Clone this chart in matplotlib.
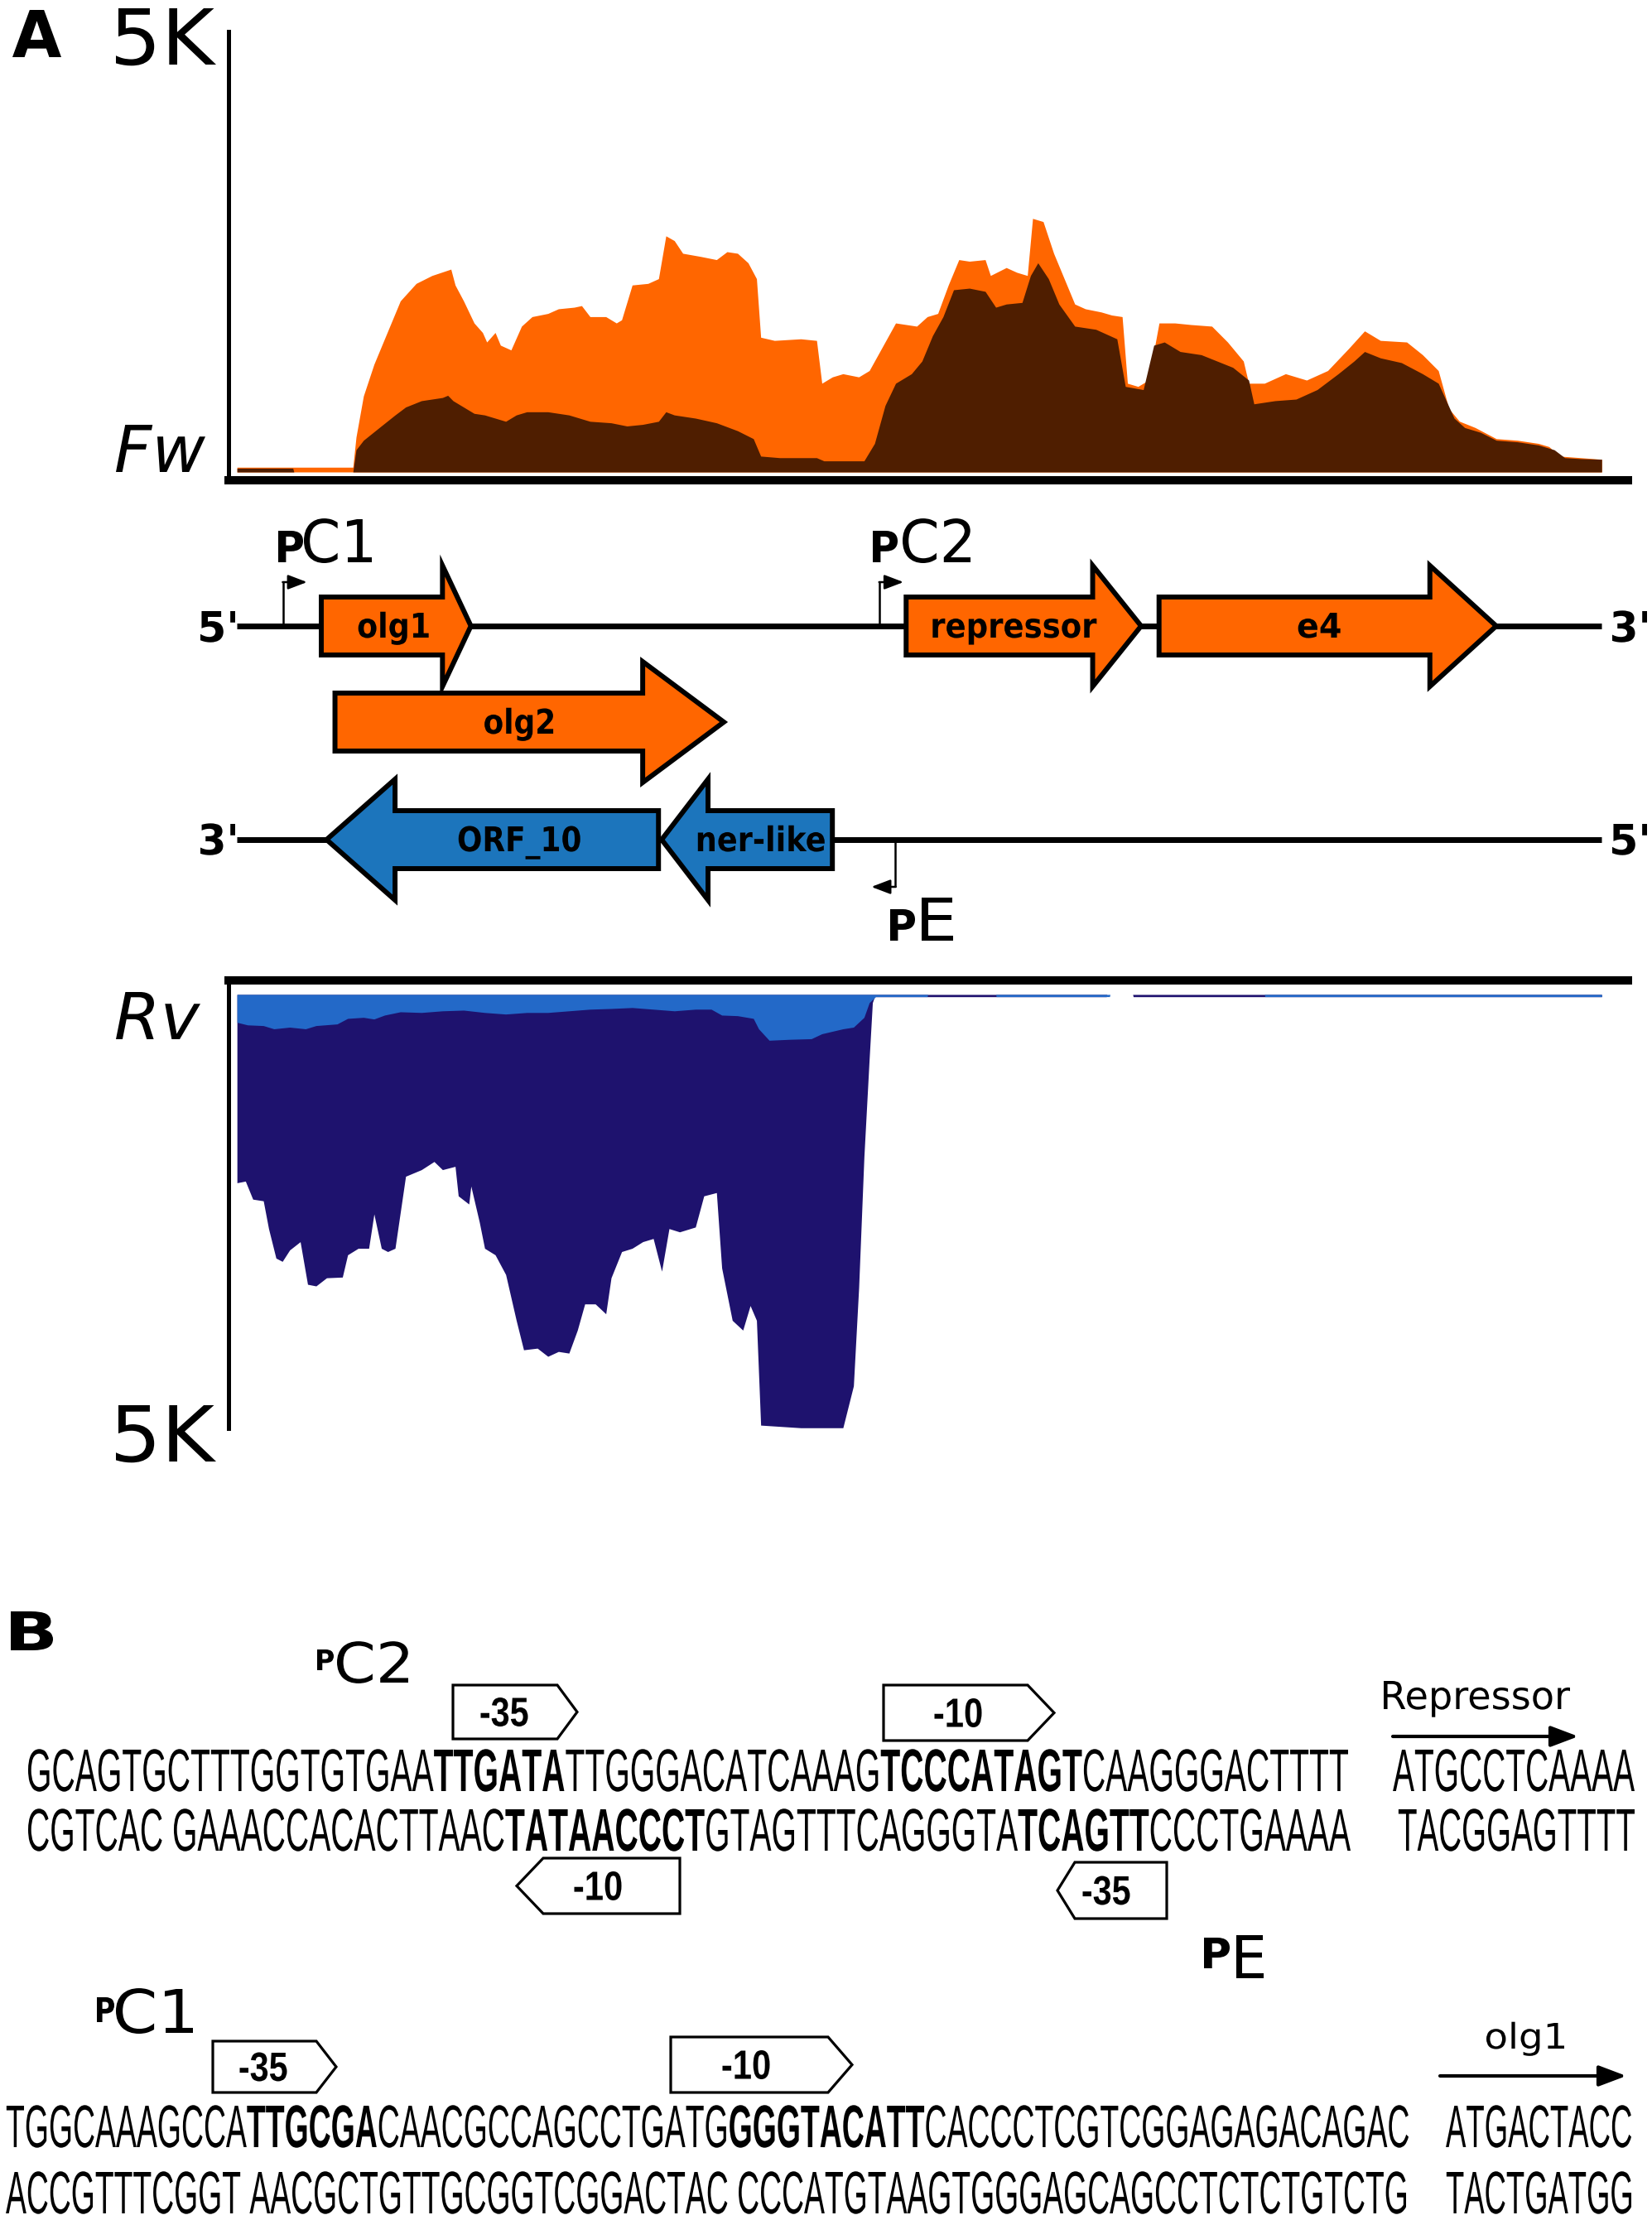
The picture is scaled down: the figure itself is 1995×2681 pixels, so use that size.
import matplotlib
matplotlib.use("Agg")
import matplotlib.pyplot as plt
from matplotlib.patches import Polygon, PathPatch
from matplotlib.path import Path
from matplotlib.textpath import TextPath
from matplotlib.transforms import Affine2D
from matplotlib.font_manager import FontProperties, findfont, get_font

W, H = 1995, 2681

# ---- coverage, forward strand (position in bp, reads) ----
fw_light_pos = [0, 220, 226, 240, 260, 280, 310, 340, 370, 406,
                414, 430, 450, 466, 474, 490, 500, 520, 540, 560,
                590, 610, 640, 654, 670, 700, 720, 730, 750, 780,
                800, 814, 830, 846, 880, 910, 930, 950, 970, 986,
                994, 1020, 1070, 1100, 1110, 1130, 1150, 1180, 1200, 1220,
                1250, 1270, 1290, 1310, 1330, 1350, 1370, 1390, 1420, 1430,
                1460, 1480, 1500, 1510, 1530, 1550, 1570, 1590, 1610, 1640,
                1660, 1680, 1690, 1710, 1730, 1750, 1780, 1810, 1850, 1880,
                1910, 1920, 1950, 1990, 2030, 2070, 2110, 2140, 2170, 2220,
                2250, 2280, 2300, 2320, 2350, 2390, 2430, 2470, 2490, 2510,
                2550, 2590]
fw_light = [54, 54, 396, 863, 1223, 1511, 1942, 2140, 2230, 2302,
            2122, 1942, 1691, 1583, 1475, 1583, 1439, 1385, 1655, 1763,
            1799, 1852, 1870, 1888, 1763, 1763, 1691, 1727, 2122, 2140,
            2194, 2680, 2626, 2482, 2446, 2410, 2500, 2482, 2374, 2194,
            1529, 1493, 1511, 1493, 1007, 1079, 1115, 1079, 1151, 1367,
            1691, 1673, 1655, 1763, 1799, 2122, 2410, 2392, 2410, 2230,
            2320, 2266, 2230, 2878, 2842, 2482, 2194, 1906, 1852, 1816,
            1781, 1763, 1007, 971, 1043, 1691, 1691, 1673, 1655, 1475,
            1259, 1007, 1007, 1115, 1043, 1151, 1403, 1601, 1493, 1475,
            1331, 1151, 719, 576, 504, 378, 360, 324, 288, 180,
            162, 144]

fw_dark_pos = [0, 106, 108, 220, 226, 240, 270, 300, 320, 350,
               390, 400, 410, 430, 450, 470, 490, 510, 530, 550,
               590, 630, 670, 710, 740, 770, 800, 814, 830, 870,
               910, 950, 980, 994, 1030, 1100, 1114, 1190, 1210, 1230,
               1250, 1280, 1300, 1320, 1340, 1360, 1390, 1420, 1440, 1460,
               1490, 1506, 1520, 1540, 1560, 1590, 1630, 1670, 1686, 1720,
               1740, 1760, 1790, 1830, 1860, 1890, 1920, 1930, 1970, 2010,
               2050, 2090, 2120, 2140, 2170, 2210, 2250, 2280, 2310, 2330,
               2360, 2390, 2430, 2470, 2500, 2520, 2550, 2590]
fw_dark = [43, 43, 0, 0, 252, 360, 504, 647, 737, 809,
           845, 870, 809, 737, 665, 647, 611, 575, 647, 683,
           683, 647, 575, 558, 522, 540, 575, 683, 647, 611,
           558, 468, 378, 180, 162, 162, 126, 126, 324, 755,
           1007, 1115, 1259, 1547, 1763, 2068, 2086, 2050, 1870, 1906,
           1924, 2230, 2374, 2194, 1906, 1655, 1619, 1511, 971, 935,
           1439, 1475, 1367, 1331, 1259, 1187, 1043, 773, 809, 827,
           935, 1115, 1259, 1367, 1295, 1241, 1115, 1007, 611, 504,
           450, 360, 342, 306, 252, 162, 151, 144]

# ---- coverage, reverse strand ----
rv_deep_pos = [0, 16, 30, 50, 60, 74, 86, 100, 120, 134,
               150, 170, 200, 210, 230, 250, 260, 274, 286, 300,
               320, 350, 374, 390, 414, 420, 440, 444, 460, 470,
               490, 510, 530, 544, 570, 590, 610, 630, 646, 660,
               680, 700, 710, 730, 750, 770, 790, 806, 820, 840,
               870, 886, 910, 920, 940, 960, 974, 986, 994, 1070,
               1150, 1170, 1180, 1190, 1200, 1206, 1210, 1650, 1651, 1700,
               1701, 2590]
rv_deep = [2170, 2151, 2359, 2378, 2698, 3038, 3076, 2944, 2849, 3340,
           3359, 3265, 3257, 3000, 2925, 2925, 2529, 2925, 2963, 2925,
           2095, 2019, 1925, 2019, 1981, 2321, 2415, 2208, 2623, 2925,
           3000, 3227, 3755, 4095, 4076, 4170, 4114, 4133, 3868, 3566,
           3566, 3680, 3265, 2963, 2925, 2849, 2812, 3189, 2698, 2736,
           2680, 2321, 2283, 3151, 3755, 3868, 3585, 3755, 4963, 4993,
           4993, 4510, 3378, 1868, 736, 94, 26, 26, 0, 0,
           26, 26]

rv_light_pos = [0, 20, 50, 70, 100, 130, 150, 190, 210, 240,
                260, 280, 310, 350, 390, 430, 470, 510, 550, 590,
                630, 670, 710, 750, 790, 830, 870, 900, 920, 950,
                980, 990, 1010, 1050, 1090, 1110, 1150, 1170, 1190, 1200,
                1210, 1212, 1310, 1311, 1440, 1441, 1656, 1657, 1950, 1951,
                2590]
rv_light = [321, 351, 359, 396, 377, 396, 359, 340, 276, 264,
            283, 238, 200, 208, 189, 181, 208, 226, 208, 208,
            189, 170, 162, 151, 170, 189, 170, 170, 238, 245,
            276, 396, 528, 517, 510, 453, 396, 377, 264, 94,
            38, 25, 25, 0, 0, 25, 25, 0, 0, 25,
            25]

# ---- genes ----
gene_names = ["olg1", "olg2", "repressor", "e4", "ORF_10", "ner-like"]
gene_left = [160, 186, 1270, 1750, 170, 806]
gene_right = [444, 924, 1716, 2390, 800, 1130]
gene_head = [54, 154, 92, 126, 130, 88]
gene_strand = [1, 1, 1, 1, -1, -1]
gene_row = [0, 1, 0, 0, 2, 2]
gene_label_pos = [297, 535, 1476, 2054, 536, 995]
gene_label_w = [85, 83, 198, 51, 147, 153]

prom_names = ["C1", "C2", "E"]
prom_pos = [88, 1220, 1249]
prom_strand = [1, 1, -1]

# ---- panel B sequences (text, bold) ----
seq1 = [("GCAGTGCTTTGGTGTGAA", False), ("TTGATA", True), ("TTGGGACATCAAAG", False),
        ("TCCCATAGT", True), ("CAAGGGACTTTT", False)]
seq2 = [("CGTCAC GAAACCACACTTAAC", False), ("TATAACCCT", True), ("GTAGTTTCAGGGTA", False),
        ("TCAGTT", True), ("CCCTGAAAA", False)]
seq3 = [("TGGCAAAGCCA", False), ("TTGCGA", True), ("CAACGCCAGCCTGATG", False),
        ("GGGTACATT", True), ("CACCCTCGTCGGAGAGACAGAC", False)]
seq4 = [("ACCGTTTCGGT AACGCTGTTGCGGTCGGACTAC CCCATGTAAGTGGGAGCAGCCTCTCTGTCTG", False)]
start1 = [("ATGCCTCAAAA", False)]
start2 = [("TACGGAGTTTT", False)]
start3 = [("ATGACTACC", False)]
start4 = [("TACTGATGG", False)]

ORANGE = "#ff6600"
BROWN = "#4f1e00"
NAVY = "#1e126e"
LBLUE = "#2369c8"
GBLUE = "#1c75bc"
XLIM = (-16, 2640)

fig = plt.figure(figsize=(W / 100, H / 100), dpi=100)


def px_axes(x0, y0, x1, y1):
    return fig.add_axes([x0 / W, 1 - y1 / H, (x1 - x0) / W, (y1 - y0) / H])


# forward coverage
axf = px_axes(276, 38, 1966, 580)
axf.fill_between(fw_light_pos, 0, fw_light, color=ORANGE, lw=0)
axf.fill_between(fw_dark_pos, 0, fw_dark, color=BROWN, lw=0)
axf.set_xlim(*XLIM)
axf.set_ylim(-94, 5000)

# reverse coverage
axr = px_axes(276, 1184, 1966, 1725)
axr.fill_between(rv_deep_pos, 0, rv_deep, color=NAVY, lw=0)
axr.fill_between(rv_light_pos, 0, rv_light, color=LBLUE, lw=0)
axr.set_xlim(*XLIM)
axr.set_ylim(5000, -162)

for ax, thick in ((axf, "bottom"), (axr, "top")):
    for side in ("left", "right", "top", "bottom"):
        ax.spines[side].set_visible(side in ("left", thick))
    ax.spines["left"].set_linewidth(3.6)
    ax.spines[thick].set_linewidth(7.2)
    ax.set_xticks([])
    ax.set_yticks([])
    ax.patch.set_alpha(0)

# gene map (y in pixel rows)
axg = px_axes(276, 600, 1966, 1160)
axg.set_xlim(*XLIM)
axg.set_ylim(1160, 600)
axg.axis("off")
ROW_Y = [756, 872, 1014]
for y in (ROW_Y[0], ROW_Y[2]):
    axg.plot([0, 2590], [y, y], color="black", lw=5, solid_capstyle="butt", zorder=1)

for name, l, r, hd, st, row in zip(gene_names, gene_left, gene_right, gene_head,
                                   gene_strand, gene_row):
    yc, hb, hh = ROW_Y[row], 35, 73
    if st > 0:
        hx = r - hd
        pts = [(l, yc - hb), (hx, yc - hb), (hx, yc - hh), (r, yc),
               (hx, yc + hh), (hx, yc + hb), (l, yc + hb)]
        fc = ORANGE
    else:
        hx = l + hd
        pts = [(r, yc - hb), (hx, yc - hb), (hx, yc - hh), (l, yc),
               (hx, yc + hh), (hx, yc + hb), (r, yc + hb)]
        fc = GBLUE
    axg.add_patch(Polygon(pts, closed=True, fc=fc, ec="black", lw=4.3,
                          joinstyle="miter", zorder=3))

for p, st in zip(prom_pos, prom_strand):
    y0 = ROW_Y[0] if st > 0 else ROW_Y[2]
    y1 = y0 - 53 if st > 0 else y0 + 57
    axg.plot([p, p], [y0, y1], color="black", lw=1.8, solid_capstyle="butt", zorder=2)
    axg.annotate("", xy=(p + st * 45, y1), xytext=(p - st * 1.2, y1),
                 arrowprops=dict(arrowstyle="-|>,head_length=0.5,head_width=0.19",
                                 mutation_scale=28, lw=1.8, color="black",
                                 shrinkA=0, shrinkB=0), zorder=2)


def pos2px(p):
    return axg.transData.transform((p, 0))[0]


# overlay in pixel coordinates for all text
ov = fig.add_axes([0, 0, 1, 1])
ov.set_xlim(0, W)
ov.set_ylim(H, 0)
ov.axis("off")

_cap_cache = {}


def cap_unit(prop):
    key = (prop.get_family()[0], prop.get_weight(), prop.get_style())
    if key not in _cap_cache:
        _cap_cache[key] = TextPath((0, 0), "H", size=1, prop=prop).get_extents().height
    return _cap_cache[key]


def glyph_text(s, x, base, cap, width=None, squeeze=0.8, family="DejaVu Sans",
               weight="normal", style="normal", ha="left", color="black"):
    prop = FontProperties(family=family, weight=weight, style=style)
    tp = TextPath((0, 0), s, size=1, prop=prop)
    sy = cap / cap_unit(prop)
    ext = tp.get_extents()
    sx = width / ext.width if width else sy * squeeze
    if ha == "center":
        x = x - (ext.x0 + ext.width / 2) * sx
    elif ha == "right":
        x = x - ext.x1 * sx
    else:
        x = x - ext.x0 * sx
    path = Affine2D().scale(sx, -sy).translate(x, base).transform_path(tp)
    ov.add_patch(PathPatch(path, fc=color, ec="none", zorder=5))


def advance(c, prop):
    try:
        font = get_font(findfont(prop))
        font.set_size(100, 72)
        return font.load_char(ord(c)).linearHoriAdvance / 65536 / 100
    except Exception:
        if c == " ":
            return 0.28
        return TextPath((0, 0), c, size=1, prop=prop).get_extents().width + 0.06


SEQ_PROPS = {False: FontProperties(family="Liberation Sans"),
             True: FontProperties(family="Liberation Sans", weight="bold")}


def seq_line(parts, x0, x1, base, cap=50):
    chars = [(c, b) for s, b in parts for c in s]
    adv = [advance(c, SEQ_PROPS[b]) for c, b in chars]
    last = TextPath((0, 0), chars[-1][0], size=1, prop=SEQ_PROPS[chars[-1][1]]).get_extents()
    total = sum(adv[:-1]) + last.x1
    sx = (x1 - x0) / total
    sy = cap / cap_unit(SEQ_PROPS[False])
    paths = []
    x = x0
    for (c, b), a in zip(chars, adv):
        if c != " ":
            tp = TextPath((0, 0), c, size=1, prop=SEQ_PROPS[b])
            paths.append(Affine2D().scale(sx, -sy).translate(x, base).transform_path(tp))
        x += a * sx
    ov.add_patch(PathPatch(Path.make_compound_path(*paths), fc="black", ec="none", zorder=5))


# ---- panel A labels ----
glyph_text("A", 15, 69, 57, width=59, weight="bold")
glyph_text("5K", 140, 78, 68, width=121)
glyph_text("5K", 140, 1765, 68, width=121)
glyph_text("Fw", 140, 570, 57, width=108, style="italic")
glyph_text("Rv", 140, 1255, 57, width=102, style="italic")

glyph_text("5'", 284, 775, 37, width=42, weight="bold", ha="right")
glyph_text("3'", 1947, 775, 37, width=42, weight="bold")
glyph_text("3'", 284, 1032, 37, width=42, weight="bold", ha="right")
glyph_text("5'", 1947, 1032, 37, width=42, weight="bold")

for name, lp, w, row in zip(gene_names, gene_label_pos, gene_label_w, gene_row):
    glyph_text(name, pos2px(lp), ROW_Y[row] + 14, 30, width=w, weight="bold", ha="center")

# promoter names: bold P + regular suffix
prom_label_px = [(336, 367, 679), (1054, 1090, 679), (1075, 1113, 1136)]
prom_suffix_w = [82, 82, 38]
for suf, (xp, xs, base), ws in zip(prom_names, prom_label_px, prom_suffix_w):
    glyph_text("P", xp, base, 38, width=30, weight="bold")
    glyph_text(suf, xs, base, 52, width=ws)

# ---- panel B ----
glyph_text("B", 13, 1993, 47, width=51, weight="bold")

glyph_text("P", 383, 2017, 25, width=20, weight="bold")
glyph_text("C2", 407, 2032, 49, width=86)
glyph_text("P", 117, 2442, 30, width=21, weight="bold")
glyph_text("C1", 140, 2455, 53, width=93)
glyph_text("P", 1454, 2377, 37, width=31, weight="bold")
glyph_text("E", 1493, 2389, 52, width=33)

glyph_text("Repressor", 1671, 2064, 34, width=225)
glyph_text("olg1", 1795, 2474, 31, width=94)
for x0, x1, y in ((1682, 1906, 2097), (1739, 1964, 2507)):
    ov.annotate("", xy=(x1, y), xytext=(x0, y),
                arrowprops=dict(arrowstyle="-|>,head_length=0.45,head_width=0.17",
                                mutation_scale=45, lw=3, color="black",
                                shrinkA=0, shrinkB=0))

# -35 / -10 boxes: (label, left, neck, right, top, bottom, direction, text centre)
boxes = [("-35", 547, 673, 697, 2035, 2100, 1, 609),
         ("-10", 1067, 1241, 1273, 2035, 2102, 1, 1157),
         ("-10", 624, 656, 821, 2244, 2311, -1, 722),
         ("-35", 1277, 1298, 1409, 2249, 2317, -1, 1336),
         ("-35", 257, 382, 406, 2465, 2527, 1, 318),
         ("-10", 810, 1000, 1029, 2460, 2527, 1, 901)]
for lab, l, n, r, t, b, d, tc in boxes:
    m = (t + b) / 2
    if d > 0:
        pts = [(l, t), (n, t), (r, m), (n, b), (l, b)]
    else:
        pts = [(l, m), (n, t), (r, t), (r, b), (n, b)]
    ov.add_patch(Polygon(pts, closed=True, fc="white", ec="black", lw=2.3,
                         joinstyle="miter", zorder=4))
    glyph_text(lab, tc, m + 17, 34, width=57, family="Liberation Sans",
               weight="bold", ha="center")

seq_line(seq1, 32, 1628, 2163)
seq_line(start1, 1682, 1974, 2163)
seq_line(seq2, 32, 1631, 2235)
seq_line(start2, 1688, 1974, 2235)
seq_line(seq3, 7, 1701, 2593)
seq_line(start3, 1746, 1970, 2593)
seq_line(seq4, 7, 1698, 2673)
seq_line(start4, 1746, 1970, 2673)

fig.savefig("out.png", dpi=100)
